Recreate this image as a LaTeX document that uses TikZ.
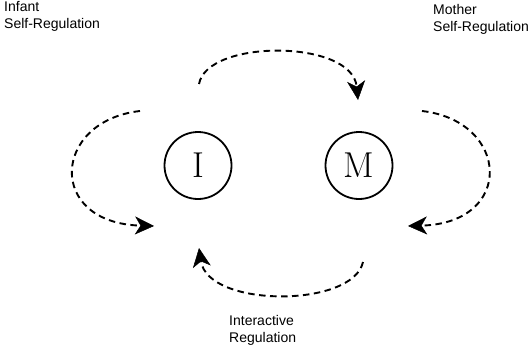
\documentclass[tikz,border=0pt]{standalone}
\usepackage{fontspec}
\newfontfamily\labelfont{Liberation Sans}
\usetikzlibrary{arrows.meta,positioning,calc}

\begin{document}
\begin{tikzpicture}[
  x=1pt, y=1pt,
  >={Stealth[length=19pt, width=18pt, inset=5.5pt, line width=0.5pt]},
  party/.style={circle, draw, line width=1.8pt, minimum size=67pt, inner sep=0pt,
    font=\fontsize{36}{36}\selectfont},
  caption/.style={align=left, inner sep=0pt, font=\labelfont\fontsize{14}{17}\selectfont},
  flow/.style={->, line width=1.9pt, dash pattern=on 6.5pt off 4.5pt}
]
\useasboundingbox (0,0) rectangle (529,349);

% --- nodes (absolute placement for fidelity) ---
\node[party] (inf) at (198,183.5) {I};
\node[party] (mom) at (359,183.5) {M};

\node[caption, anchor=west] (infself) at (4,333) {Infant\\Self-Regulation};
\node[caption, anchor=west] (momself) at (433,330) {Mother\\Self-Regulation};
\node[caption, anchor=west] (inter)   at (229,18.5) {Interactive\\Regulation};

% --- free ends of the loops ---
\coordinate (topA) at (199,265);
\coordinate (topB) at (358,249);
\coordinate (leftA) at (140,238);
\coordinate (leftB) at (154,123);
\coordinate (rightA) at (422,238);
\coordinate (rightB) at (408,123);
\coordinate (botA) at (363,87);
\coordinate (botB) at (199,101);

% --- loops ---
% infant to mother (over the top)
\draw[flow] (topA) .. controls (207,310) and (352,310) .. (topB);
% infant self-regulation
\draw[flow] (leftA) .. controls (52,228) and (46,126) .. (leftB);
% mother self-regulation
\draw[flow] (rightA) .. controls (509.5,228) and (515.5,126) .. (rightB);
% mother to infant (under the bottom)
\draw[flow] (botA) .. controls (353,41) and (208,41) .. (botB);

\end{tikzpicture}
\end{document}
